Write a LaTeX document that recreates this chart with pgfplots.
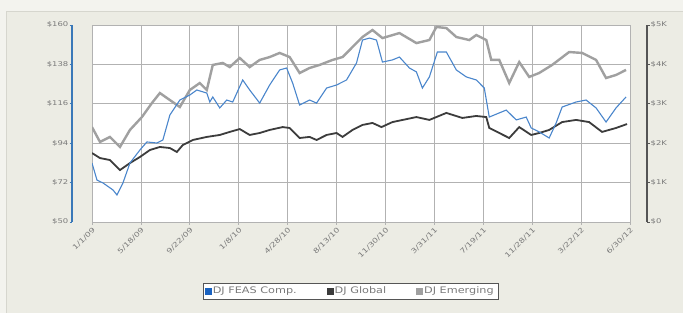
\documentclass[border=0pt]{standalone}
\usepackage{fontspec}
\setmainfont{DejaVu Sans}
\newfontfamily\tickfont[FakeStretch=1.3]{DejaVu Sans}
\newfontfamily\legfont[FakeStretch=1.25]{DejaVu Sans}
\usepackage{pgfplots}
\usepackage{pgfplotstable}
\pgfplotsset{compat=1.18}
\definecolor{bgout}{HTML}{F3F3EE}
\definecolor{bgin}{HTML}{ECECE4}
\definecolor{bgborder}{HTML}{D6D6CE}
\definecolor{gridcol}{HTML}{B2B2B2}
\definecolor{labgray}{HTML}{7A7A7A}
\definecolor{feas}{HTML}{4A86CC}
\definecolor{glob}{HTML}{3C3C3C}
\definecolor{emer}{HTML}{A0A0A0}
\definecolor{legblue}{HTML}{1A62C0}
\definecolor{leftblue}{HTML}{3A78B8}
\definecolor{rightgray}{HTML}{555555}

\pgfplotstableread{
x y
0 103.0
8 94.7
18 97.5
28 91.9
38 101.4
50 108.6
60 116.4
68 122.0
78 118.1
88 114.2
98 123.7
108 127.6
115 123.7
121 137.7
131 138.8
138 136.5
148 141.6
158 136.5
168 140.5
178 142.1
188 144.4
198 142.1
208 133.2
218 136.0
228 137.7
241 140.5
251 142.1
261 147.7
271 153.3
281 157.2
291 152.7
308 155.5
325 149.9
338 151.6
345 158.9
355 158.3
365 153.3
378 151.6
385 154.4
395 151.6
400 140.5
408 140.5
418 127.6
428 139.3
438 131.0
448 133.2
461 137.7
478 144.9
491 144.4
505 140.5
515 130.4
525 132.1
535 134.9
}\emertab

\pgfplotstableread{
x y
0 88.5
8 85.7
18 84.6
28 79.0
38 82.9
48 86.3
58 90.2
68 91.9
78 91.3
85 89.1
91 93.0
101 95.8
115 97.5
128 98.6
138 100.3
148 101.9
158 98.6
168 99.7
178 101.4
191 103.0
198 102.5
208 96.9
218 97.5
225 95.8
235 98.6
245 99.7
251 97.5
261 101.4
271 104.2
281 105.3
290 103.0
301 105.8
325 108.6
338 107.0
355 110.9
371 108.1
385 109.2
395 108.6
398 102.5
408 99.7
418 96.9
428 103.0
440 98.6
448 99.7
458 101.4
471 105.8
485 107.0
498 105.8
511 100.3
525 102.5
536 104.7
}\globtab

\pgfplotstableread{
x y
0 82.9
5 73.4
11 71.8
21 67.9
25 65.1
31 71.8
38 82.9
48 90.2
55 94.7
65 94.1
71 95.8
78 109.7
88 118.1
98 120.9
105 123.7
115 122.0
118 117.0
121 119.8
128 113.7
135 118.1
141 117.0
151 129.3
158 123.7
168 116.4
178 126.5
188 134.9
195 136.0
201 127.6
208 115.3
218 118.1
225 116.4
235 124.8
245 126.5
255 129.3
265 138.8
271 151.6
278 152.7
285 151.6
291 139.3
301 140.5
308 142.1
318 136.0
325 133.8
331 124.8
338 131.0
346 144.9
355 144.9
365 134.9
375 131.0
385 129.3
393 124.8
398 108.6
408 110.9
415 112.5
425 107.0
435 108.6
440 102.5
448 100.3
458 96.9
465 105.3
471 114.2
485 117.0
495 118.1
505 113.7
515 105.8
525 113.7
535 119.8
}\feastab

\begin{document}
\begin{tikzpicture}[x=1pt,y=1pt]
\fill[bgout] (0,0) rectangle (683,313);
\fill[bgin,draw=bgborder] (6,-1) rectangle (684,302);

\begin{axis}[
  at={(92pt,91pt)}, anchor=south west,
  scale only axis, width=538pt, height=197pt,
  xmin=0, xmax=539, ymin=50, ymax=160,
  axis background/.style={fill=white},
  axis line style={draw=gridcol, line width=0.6pt},
  xtick={0,49,98,147,196,245,294,343,392,441,490,539},
  xticklabels={1/1/09,5/18/09,9/22/09,1/8/10,4/28/10,8/13/10,11/30/10,3/31/11,7/19/11,11/28/11,3/22/12,6/30/12},
  ytick={50,72,94,116,138,160},
  yticklabels={},
  grid=major,
  major grid style={draw=gridcol, line width=0.7pt},
  xtick pos=bottom, tick align=outside, major tick length=3pt,
  xtick style={draw=gridcol, line width=0.7pt},
  ytick style={draw=none},
  xticklabel style={rotate=45, anchor=north east, font=\tickfont\fontsize{6.8}{7}\selectfont, text=labgray, inner sep=1pt},
  legend style={at={(0.48,-0.35)}, anchor=center, legend columns=3,
    draw=rightgray, fill=white, font=\legfont\fontsize{9}{10}\selectfont, text=labgray,
    inner sep=2pt, /tikz/every even column/.append style={column sep=28pt}},
  legend cell align=left,
]
\addplot[emer, line width=2.4pt, forget plot] table[x=x,y=y] {\emertab};
\addplot[glob, line width=1.8pt, forget plot] table[x=x,y=y] {\globtab};
\addplot[feas, line width=1.1pt, forget plot] table[x=x,y=y] {\feastab};
\addlegendimage{only marks, mark=square*, mark size=3pt, mark options={fill=legblue, draw=legblue}}
\addlegendentry{DJ FEAS Comp.}
\addlegendimage{only marks, mark=square*, mark size=3pt, mark options={fill=glob, draw=glob}}
\addlegendentry{DJ Global}
\addlegendimage{only marks, mark=square*, mark size=3pt, mark options={fill=emer, draw=emer}}
\addlegendentry{DJ Emerging}
\end{axis}

\begin{axis}[
  at={(72pt,91pt)}, anchor=south west,
  scale only axis, width=1pt, height=197pt,
  xmin=0, xmax=1, ymin=50, ymax=160,
  axis x line=none, axis y line=left,
  y axis line style={draw=leftblue, line width=1.2pt, -},
  ytick={50,72,94,116,138,160},
  yticklabels={\$50,\$72,\$94,\$116,\$138,\$160},
  tick align=outside, major tick length=2.5pt,
  ytick style={draw=leftblue, line width=0.8pt},
  yticklabel style={font=\tickfont\fontsize{6.5}{7}\selectfont, text=labgray, inner sep=1pt},
]
\end{axis}

\begin{axis}[
  at={(646pt,91pt)}, anchor=south west,
  scale only axis, width=1pt, height=197pt,
  xmin=0, xmax=1, ymin=0, ymax=5000,
  axis x line=none, axis y line=right,
  y axis line style={draw=rightgray, line width=1.4pt, -},
  ytick={0,1000,2000,3000,4000,5000},
  yticklabels={\$0,\$1K,\$2K,\$3K,\$4K,\$5K},
  tick align=outside, major tick length=2.5pt,
  ytick style={draw=rightgray, line width=0.8pt},
  yticklabel style={font=\tickfont\fontsize{6.5}{7}\selectfont, text=labgray, inner sep=1pt},
]
\end{axis}
\pgfresetboundingbox
\useasboundingbox (0,0) rectangle (683,313);
\end{tikzpicture}
\end{document}
